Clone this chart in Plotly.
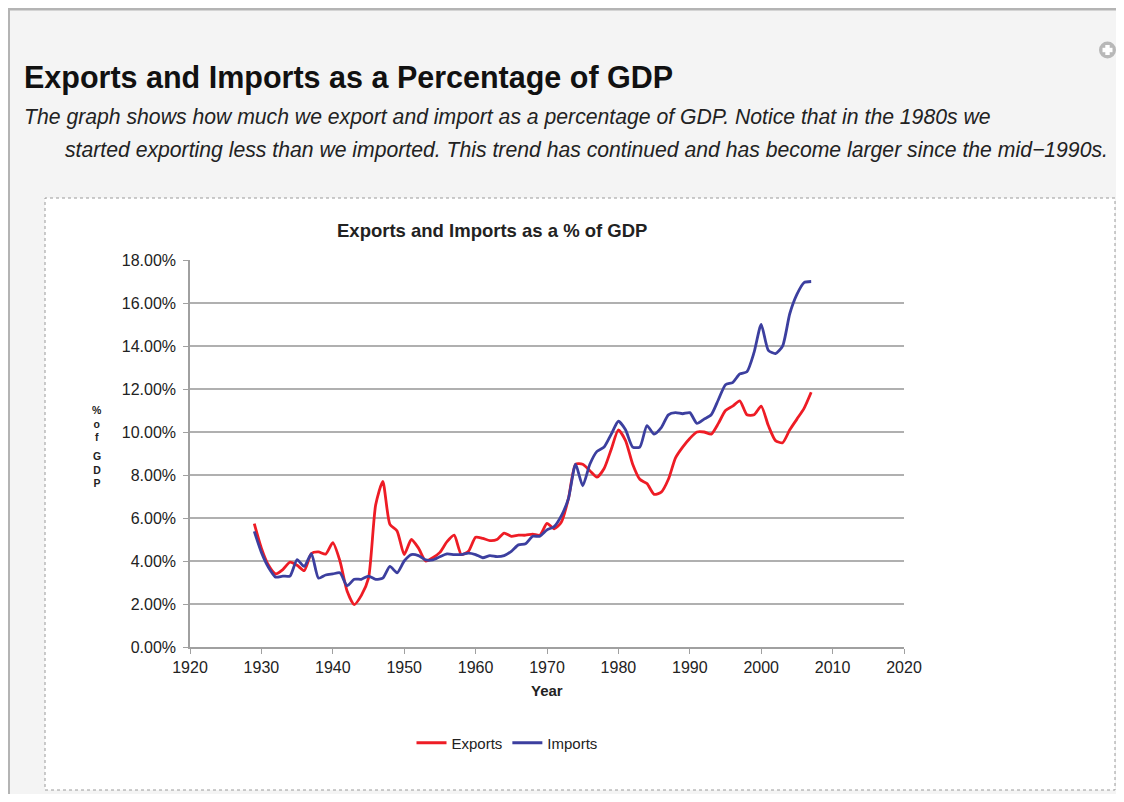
import plotly.graph_objects as go

# ---------------- data ----------------
years = list(range(1929, 2008))

exports_pct = [
    5.74, 4.60, 3.80, 3.40, 3.60, 3.95, 3.80, 3.55, 4.35, 4.42,   # 1929-1938
    4.32, 4.85, 4.00, 2.60, 1.97, 2.40, 3.20, 6.60, 7.70, 5.70,   # 1939-1948
    5.40, 4.30, 5.00, 4.60, 4.00, 4.15, 4.40, 4.90, 5.20, 4.30,   # 1949-1958
    4.45, 5.10, 5.05, 4.95, 5.00, 5.30, 5.15, 5.20, 5.20, 5.25,   # 1959-1968
    5.20, 5.75, 5.50, 5.80, 6.90, 8.50, 8.50, 8.20, 7.90, 8.30,   # 1969-1978
    9.20, 10.10, 9.60, 8.50, 7.80, 7.60, 7.10, 7.20, 7.80, 8.80,  # 1979-1988
    9.30, 9.70, 10.00, 10.00, 9.90, 10.40, 11.00, 11.20, 11.45, 10.80,  # 1989-1998
    10.80, 11.20, 10.30, 9.60, 9.50, 10.10, 10.60, 11.10, 11.85,  # 1999-2007
]

imports_pct = [
    5.38, 4.40, 3.70, 3.25, 3.30, 3.30, 4.06, 3.75, 4.34, 3.20,   # 1929-1938
    3.35, 3.40, 3.45, 2.85, 3.15, 3.15, 3.30, 3.15, 3.20, 3.75,   # 1939-1948
    3.45, 4.00, 4.30, 4.25, 4.05, 4.05, 4.20, 4.33, 4.30, 4.30,   # 1949-1958
    4.37, 4.30, 4.15, 4.25, 4.20, 4.25, 4.45, 4.75, 4.80, 5.15,   # 1959-1968
    5.15, 5.45, 5.60, 6.10, 6.90, 8.50, 7.50, 8.50, 9.10, 9.30,   # 1969-1978
    9.90, 10.50, 10.10, 9.30, 9.30, 10.30, 9.90, 10.20, 10.80, 10.90,  # 1979-1988
    10.85, 10.90, 10.40, 10.60, 10.80, 11.50, 12.20, 12.30, 12.70, 12.80,  # 1989-1998
    13.70, 15.00, 13.80, 13.65, 14.00, 15.50, 16.40, 16.95, 17.00,  # 1999-2007
]

series_names = ["Exports", "Imports"]
x_ticks = list(range(1920, 2021, 10))
y_ticks = list(range(0, 19, 2))
y_tick_labels = ["0.00%", "2.00%", "4.00%", "6.00%", "8.00%", "10.00%",
                 "12.00%", "14.00%", "16.00%", "18.00%"]

page_title = "Exports and Imports as a Percentage of GDP"
subtitle_1 = "The graph shows how much we export and import as a percentage of GDP. Notice that in the 1980s we"
subtitle_2 = "started exporting less than we imported. This trend has continued and has become larger since the mid\u22121990s."
chart_title = "Exports and Imports as a % of GDP"
x_title = "Year"
y_title_top = "%<br>o<br>f"
y_title_bottom = "G<br>D<br>P"

# ---------------- layout helpers ----------------
# the page body keeps an 8px margin, so the figure is 16px smaller than the window
OFF = 8
W, H = 1124 - 2 * OFF, 802 - 2 * OFF
FONT = "Liberation Sans, Arial, Helvetica, sans-serif"


def px(x):
    return (x - OFF) / W


def py(y):
    return 1 - (y - OFF) / H


RED = "#ee1c25"
BLUE = "#3c3f9f"

fig = go.Figure()
fig.add_trace(go.Scatter(x=years, y=exports_pct, name=series_names[0], mode="lines",
                         line=dict(color=RED, width=2.8, shape="spline", smoothing=0.6)))
fig.add_trace(go.Scatter(x=years, y=imports_pct, name=series_names[1], mode="lines",
                         line=dict(color=BLUE, width=2.8, shape="spline", smoothing=0.6)))

shapes = [
    # outer page border (top + left)
    dict(type="line", xref="paper", yref="paper", x0=0, x1=1, y0=py(9), y1=py(9),
         line=dict(color="#b4b4b4", width=3)),
    dict(type="line", xref="paper", yref="paper", x0=px(9), x1=px(9), y0=py(9), y1=0,
         line=dict(color="#b4b4b4", width=2)),
    # inner chart box
    dict(type="rect", xref="paper", yref="paper", x0=px(45), x1=px(1115), y0=py(790), y1=py(198),
         fillcolor="white", line=dict(color="#9a9a9a", width=1, dash="dot"), layer="below"),
    # plus icon
    dict(type="circle", xref="paper", yref="paper", x0=px(1099), x1=px(1116), y0=py(58.5), y1=py(41.5),
         fillcolor="#b8b8b8", line=dict(width=0)),
    dict(type="rect", xref="paper", yref="paper", x0=px(1102.5), x1=px(1112.5), y0=py(52.2), y1=py(47.8),
         fillcolor="white", line=dict(width=0)),
    dict(type="rect", xref="paper", yref="paper", x0=px(1105.3), x1=px(1109.7), y0=py(55), y1=py(45),
         fillcolor="white", line=dict(width=0)),
]

annotations = [
    dict(text="<b>" + page_title + "</b>", x=px(22), y=py(78), xref="paper", yref="paper",
         xanchor="left", yanchor="middle", showarrow=False,
         font=dict(family=FONT, size=30.5, color="#111111")),
    dict(text="<i>" + subtitle_1 + "</i>", x=px(22), y=py(117), xref="paper", yref="paper",
         xanchor="left", yanchor="middle", showarrow=False,
         font=dict(family=FONT, size=21.2, color="#222222")),
    dict(text="<i>" + subtitle_2 + "</i>", x=px(63), y=py(150), xref="paper", yref="paper",
         xanchor="left", yanchor="middle", showarrow=False,
         font=dict(family=FONT, size=21.2, color="#222222")),
    dict(text="<b>" + chart_title + "</b>", x=px(492), y=py(230), xref="paper", yref="paper",
         xanchor="center", yanchor="middle", showarrow=False,
         font=dict(family=FONT, size=18.5, color="#222222")),
    dict(text="<b>" + x_title + "</b>", x=px(547), y=py(690), xref="paper", yref="paper",
         xanchor="center", yanchor="middle", showarrow=False,
         font=dict(family=FONT, size=15, color="#222222")),
    dict(text="<b>" + y_title_top + "</b>", x=px(97), y=py(423), xref="paper", yref="paper",
         xanchor="center", yanchor="middle", showarrow=False,
         font=dict(family=FONT, size=10.5, color="#222222")),
    dict(text="<b>" + y_title_bottom + "</b>", x=px(97), y=py(469), xref="paper", yref="paper",
         xanchor="center", yanchor="middle", showarrow=False,
         font=dict(family=FONT, size=10.5, color="#222222")),
]

fig.update_layout(
    width=W, height=H,
    autosize=False,
    margin=dict(l=0, r=0, t=0, b=0, pad=0, autoexpand=False),
    paper_bgcolor="#f4f4f4",
    plot_bgcolor="white",
    showlegend=True,
    legend=dict(orientation="h", x=px(507), y=py(743), xanchor="center", yanchor="middle",
                font=dict(family=FONT, size=15, color="#222222"), bgcolor="rgba(0,0,0,0)",
                itemwidth=30, tracegroupgap=0),
    xaxis=dict(domain=[px(190), px(904)], range=[1920, 2020], tickvals=x_ticks,
               automargin=False,
               showgrid=False, zeroline=False, showline=True, linecolor="#a0a0a0", linewidth=1.5,
               ticks="outside", ticklen=5, tickcolor="#a0a0a0", tickwidth=1,
               tickfont=dict(family=FONT, size=16, color="#222222"), fixedrange=True),
    yaxis=dict(domain=[py(647), py(260)], range=[0, 18], tickvals=y_ticks, ticktext=y_tick_labels,
               automargin=False, ticklabelstandoff=4,
               showgrid=True, gridcolor="#b0b0b0", gridwidth=2,
               zeroline=False, showline=True, linecolor="#a0a0a0", linewidth=1.5,
               ticks="outside", ticklen=5, tickcolor="#a0a0a0", tickwidth=1,
               tickfont=dict(family=FONT, size=16, color="#222222"), fixedrange=True),
    shapes=shapes,
    annotations=annotations,
    font=dict(family=FONT),
)

fig.write_html("out.html", config={"displayModeBar": False})
